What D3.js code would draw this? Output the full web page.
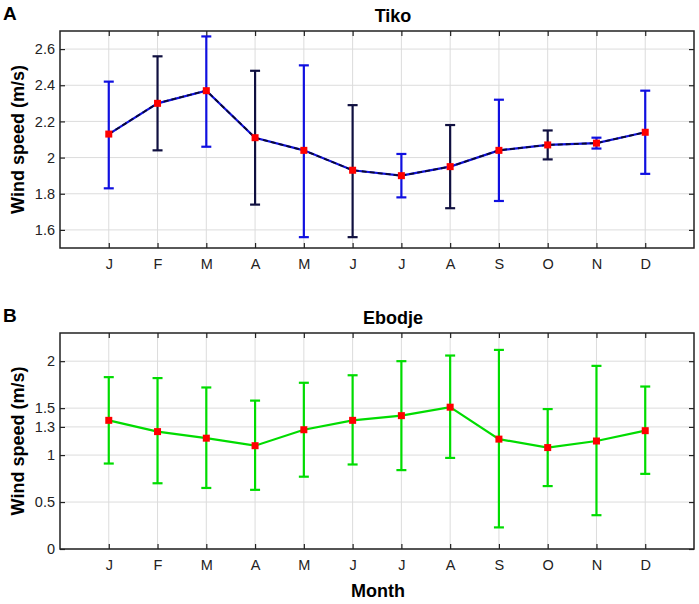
<!DOCTYPE html>
<html>
<head>
<meta charset="utf-8">
<script src="https://cdn.jsdelivr.net/npm/d3@7"></script>
<style>
  body { margin: 0; background: #fff; }
  text { font-family: "Liberation Sans", Arial, sans-serif; }
</style>
</head>
<body>
<svg id="chart"></svg>
<script>
// month labels on the x axis
var months = ["J","F","M","A","M","J","J","A","S","O","N","D"];

// Tiko: monthly mean and error bar ends (m/s)
var tikoMean  = [2.13,2.30,2.37,2.11,2.04,1.93,1.90,1.95,2.04,2.07,2.08,2.14];
var tikoUpper = [2.42,2.56,2.67,2.48,2.51,2.29,2.02,2.18,2.32,2.15,2.11,2.37];
var tikoLower = [1.83,2.04,2.06,1.74,1.56,1.56,1.78,1.72,1.76,1.99,2.05,1.91];
var tikoTicks = [1.6,1.8,2,2.2,2.4,2.6];

// Ebodje
var ebodjeMean  = [1.37,1.25,1.18,1.10,1.27,1.37,1.42,1.51,1.17,1.08,1.15,1.26];
var ebodjeUpper = [1.83,1.82,1.72,1.58,1.77,1.85,2.00,2.06,2.12,1.49,1.95,1.73];
var ebodjeLower = [0.91,0.70,0.65,0.63,0.77,0.90,0.84,0.97,0.23,0.67,0.36,0.80];
var ebodjeTicks = [0,0.5,1,1.3,1.5,2];

// colour of each Tiko error bar as it looks in the picture (dark where the dashed overlay covers it)
var tikoBarColors = ["#1010e0","#101040","#1010e0","#101040","#1010e0","#101040",
                     "#1010e0","#101040","#1010e0","#101040","#1010e0","#1010e0"];

var W = 699, H = 604;
var svg = d3.select("#chart").attr("width", W).attr("height", H);

var makeTranslateString = function(x,y)
{
    return "translate("+x+","+y+")";
}

var drawPanel = function(opt)
{
    var g = svg.append("g").attr("transform", makeTranslateString(opt.left, opt.top));
    var w = opt.width, h = opt.height;

    var xScale = d3.scaleLinear().domain([0,13]).range([0,w]);
    var yScale = d3.scaleLinear().domain(opt.domain).range([h,0]);
    var idx = d3.range(1,13);

    // grid
    g.append("g").selectAll("line.gx").data(idx).enter().append("line")
        .attr("x1", d => xScale(d)).attr("x2", d => xScale(d))
        .attr("y1", 0).attr("y2", h)
        .attr("stroke", "#dcdcdc").attr("stroke-width", 1);
    g.append("g").selectAll("line.gy").data(opt.ticks).enter().append("line")
        .attr("x1", 0).attr("x2", w)
        .attr("y1", d => yScale(d)).attr("y2", d => yScale(d))
        .attr("stroke", "#dcdcdc").attr("stroke-width", 1);

    // axes with inward ticks
    var bottom = d3.axisBottom(xScale).tickValues(idx).tickSize(-5).tickPadding(11)
        .tickFormat(d => months[d-1]);
    var top = d3.axisTop(xScale).tickValues(idx).tickSize(-5).tickFormat("");
    var left = d3.axisLeft(yScale).tickValues(opt.ticks).tickSize(-5).tickPadding(5)
        .tickFormat(d3.format("~g"));
    var right = d3.axisRight(yScale).tickValues(opt.ticks).tickSize(-5).tickFormat("");

    [[bottom, makeTranslateString(0,h)], [top, null], [left, null],
     [right, makeTranslateString(w,0)]].forEach(function(a)
    {
        var ax = g.append("g").call(a[0]);
        if (a[1]) ax.attr("transform", a[1]);
        ax.select(".domain").remove();
        ax.selectAll("line").attr("stroke", "#222").attr("stroke-width", 1.2);
        ax.selectAll("text").attr("font-size", 14.5).attr("fill", "#222");
    });

    g.append("rect").attr("width", w).attr("height", h)
        .attr("fill", "none").attr("stroke", "#222").attr("stroke-width", 1.5);

    // error bars
    var bars = g.append("g").selectAll("g").data(opt.mean).enter().append("g");
    var col = (d,i) => opt.barColors ? opt.barColors[i] : opt.color;
    bars.append("line")
        .attr("x1", (d,i) => xScale(i+1)).attr("x2", (d,i) => xScale(i+1))
        .attr("y1", (d,i) => yScale(opt.upper[i])).attr("y2", (d,i) => yScale(opt.lower[i]))
        .attr("stroke", col).attr("stroke-width", 2.2);
    ["upper","lower"].forEach(function(k)
    {
        bars.append("line")
            .attr("x1", (d,i) => xScale(i+1)-5).attr("x2", (d,i) => xScale(i+1)+5)
            .attr("y1", (d,i) => yScale(opt[k][i])).attr("y2", (d,i) => yScale(opt[k][i]))
            .attr("stroke", col).attr("stroke-width", 2.2);
    });

    // mean line
    var line = d3.line().x((d,i) => xScale(i+1)).y(d => yScale(d));
    g.append("path").datum(opt.mean).attr("d", line)
        .attr("fill", "none").attr("stroke", opt.color).attr("stroke-width", 2.2);
    if (opt.dash)
    {
        g.append("path").datum(opt.mean).attr("d", line)
            .attr("fill", "none").attr("stroke", opt.dash).attr("stroke-width", 1.8)
            .attr("stroke-dasharray", "5,3");
    }

    // markers
    g.append("g").selectAll("rect").data(opt.mean).enter().append("rect")
        .attr("x", (d,i) => xScale(i+1)-3.5).attr("y", d => yScale(d)-3.5)
        .attr("width", 7).attr("height", 7).attr("fill", "#ff0000");

    // labels
    g.append("text").attr("x", 333).attr("y", -9).attr("text-anchor", "middle")
        .attr("font-size", 18).attr("font-weight", "bold").text(opt.title);
    svg.append("text").attr("x", 3).attr("y", opt.top - 11)
        .attr("font-size", 19).attr("font-weight", "bold").text(opt.letter);
    svg.append("text")
        .attr("transform", makeTranslateString(24, opt.top + h/2) + " rotate(-90)")
        .attr("text-anchor", "middle").attr("font-size", 18).attr("font-weight", "bold")
        .text("Wind speed (m/s)");
}

drawPanel({left:60, top:31, width:634, height:217, domain:[1.5,2.7], ticks:tikoTicks,
    mean:tikoMean, upper:tikoUpper, lower:tikoLower, color:"#1010e0", dash:"#0a0a30",
    barColors:tikoBarColors, title:"Tiko", letter:"A"});

drawPanel({left:60, top:333, width:634, height:216, domain:[0,2.3], ticks:ebodjeTicks,
    mean:ebodjeMean, upper:ebodjeUpper, lower:ebodjeLower, color:"#00dc00", dash:null,
    title:"Ebodje", letter:"B"});

svg.append("text").attr("x", 378).attr("y", 597).attr("text-anchor", "middle")
    .attr("font-size", 18).attr("font-weight", "bold").text("Month");
</script>
</body>
</html>
